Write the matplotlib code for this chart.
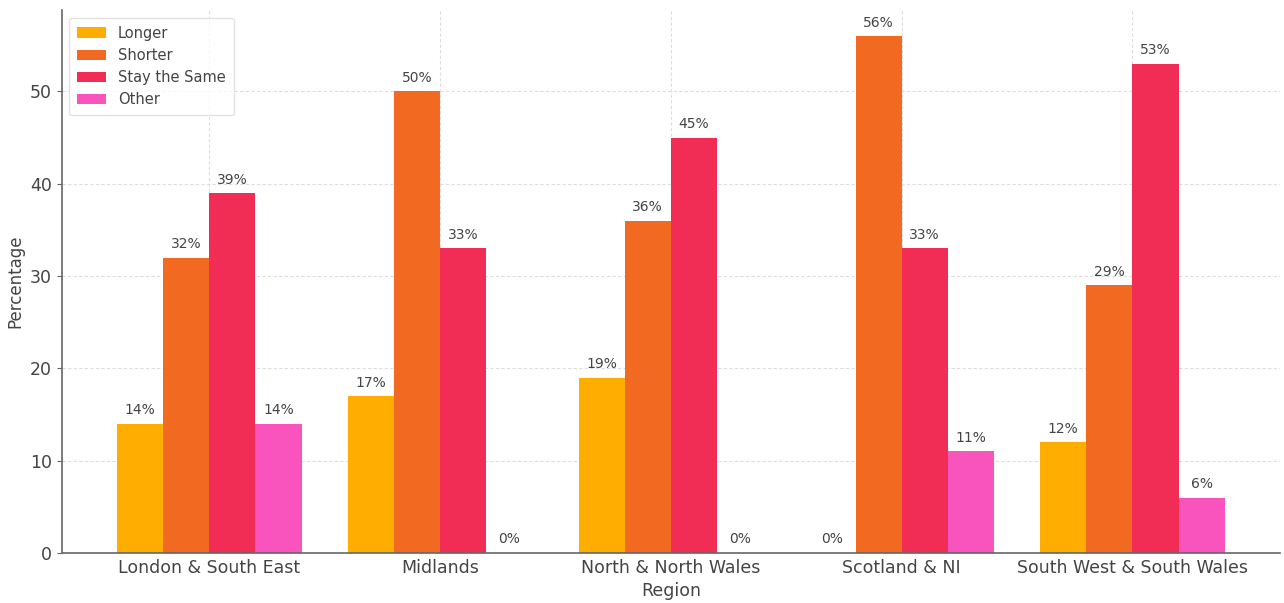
import numpy as np
import matplotlib
matplotlib.use("Agg")
import matplotlib.pyplot as plt

# Survey responses by region (percent)
regions = ["London & South East", "Midlands", "North & North Wales",
           "Scotland & NI", "South West & South Wales"]
categories = ["Longer", "Shorter", "Stay the Same", "Other"]
longer = [14, 17, 19, 0, 12]
shorter = [32, 50, 36, 56, 29]
stay_same = [39, 33, 45, 33, 53]
other = [14, 0, 0, 11, 6]

colors = ["#FFAE00", "#F26A21", "#F22D55", "#F953BE"]
series = [longer, shorter, stay_same, other]

plt.rcParams["font.family"] = "DejaVu Sans"
text_col = "#444444"

fig = plt.figure(figsize=(12.84, 6.03), dpi=100)
ax = fig.add_axes([0.048, 0.083, 0.949, 0.9])

x = np.arange(len(regions))
width = 0.2
for i, (name, vals, c) in enumerate(zip(categories, series, colors)):
    bars = ax.bar(x + (i - 1.5) * width, vals, width, label=name, color=c, zorder=2)
    for b, v in zip(bars, vals):
        ax.text(b.get_x() + b.get_width() / 2, v + 0.7, f"{v}%",
                ha="center", va="bottom", fontsize=10, color=text_col)

ax.set_xticks(x)
ax.set_xticklabels(regions, fontsize=12.5, color=text_col)
ax.tick_params(axis="y", labelsize=12.5, labelcolor=text_col, color="#666666")
ax.tick_params(axis="x", length=0, pad=4)
ax.set_xlabel("Region", fontsize=12.5, color=text_col, labelpad=4)
ax.set_ylabel("Percentage", fontsize=12, color=text_col)
ax.set_yticks([0, 10, 20, 30, 40, 50])

ax.grid(True, linestyle=(0, (3, 2)), color="#dddddd", linewidth=0.8, zorder=0)
ax.set_axisbelow(True)
for s in ["top", "right"]:
    ax.spines[s].set_visible(False)
for s in ["left", "bottom"]:
    ax.spines[s].set_color("#666666")
    ax.spines[s].set_linewidth(1.2)

leg = ax.legend(loc="upper left", fontsize=10.5, frameon=True, handlelength=2.0,
                borderpad=0.55, labelspacing=0.5)
leg.get_frame().set_edgecolor("#dddddd")
for t in leg.get_texts():
    t.set_color(text_col)

fig.savefig("out.png", dpi=100)
